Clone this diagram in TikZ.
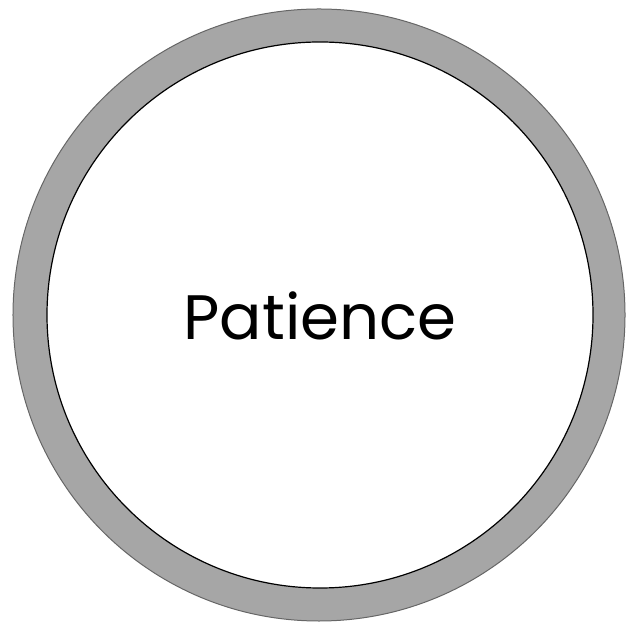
\documentclass[tikz,border=0pt]{standalone}
\usepackage{fontspec}
\setmainfont{Poppins}
\usetikzlibrary{positioning}
\definecolor{ringgray}{HTML}{A6A6A6}
\definecolor{edgegray}{HTML}{666666}

\begin{document}
\begin{tikzpicture}[
    x=1bp, y=1bp,
    ring/.style={circle,draw=edgegray,fill=ringgray,line width=1bp,minimum size=612bp,inner sep=0pt},
    core/.style={circle,draw=black,fill=white,line width=1.2bp,minimum size=546bp,inner sep=0pt},
    label/.style={font=\fontsize{63}{68}\selectfont,text=black}
]
\useasboundingbox (0,0) rectangle (630,622);
\node[ring] (outer) at (319,307) {};
\node[core] (inner) at (320,307) {};
\node[label] (word) at (320,306) {Patience};
\end{tikzpicture}
\end{document}
